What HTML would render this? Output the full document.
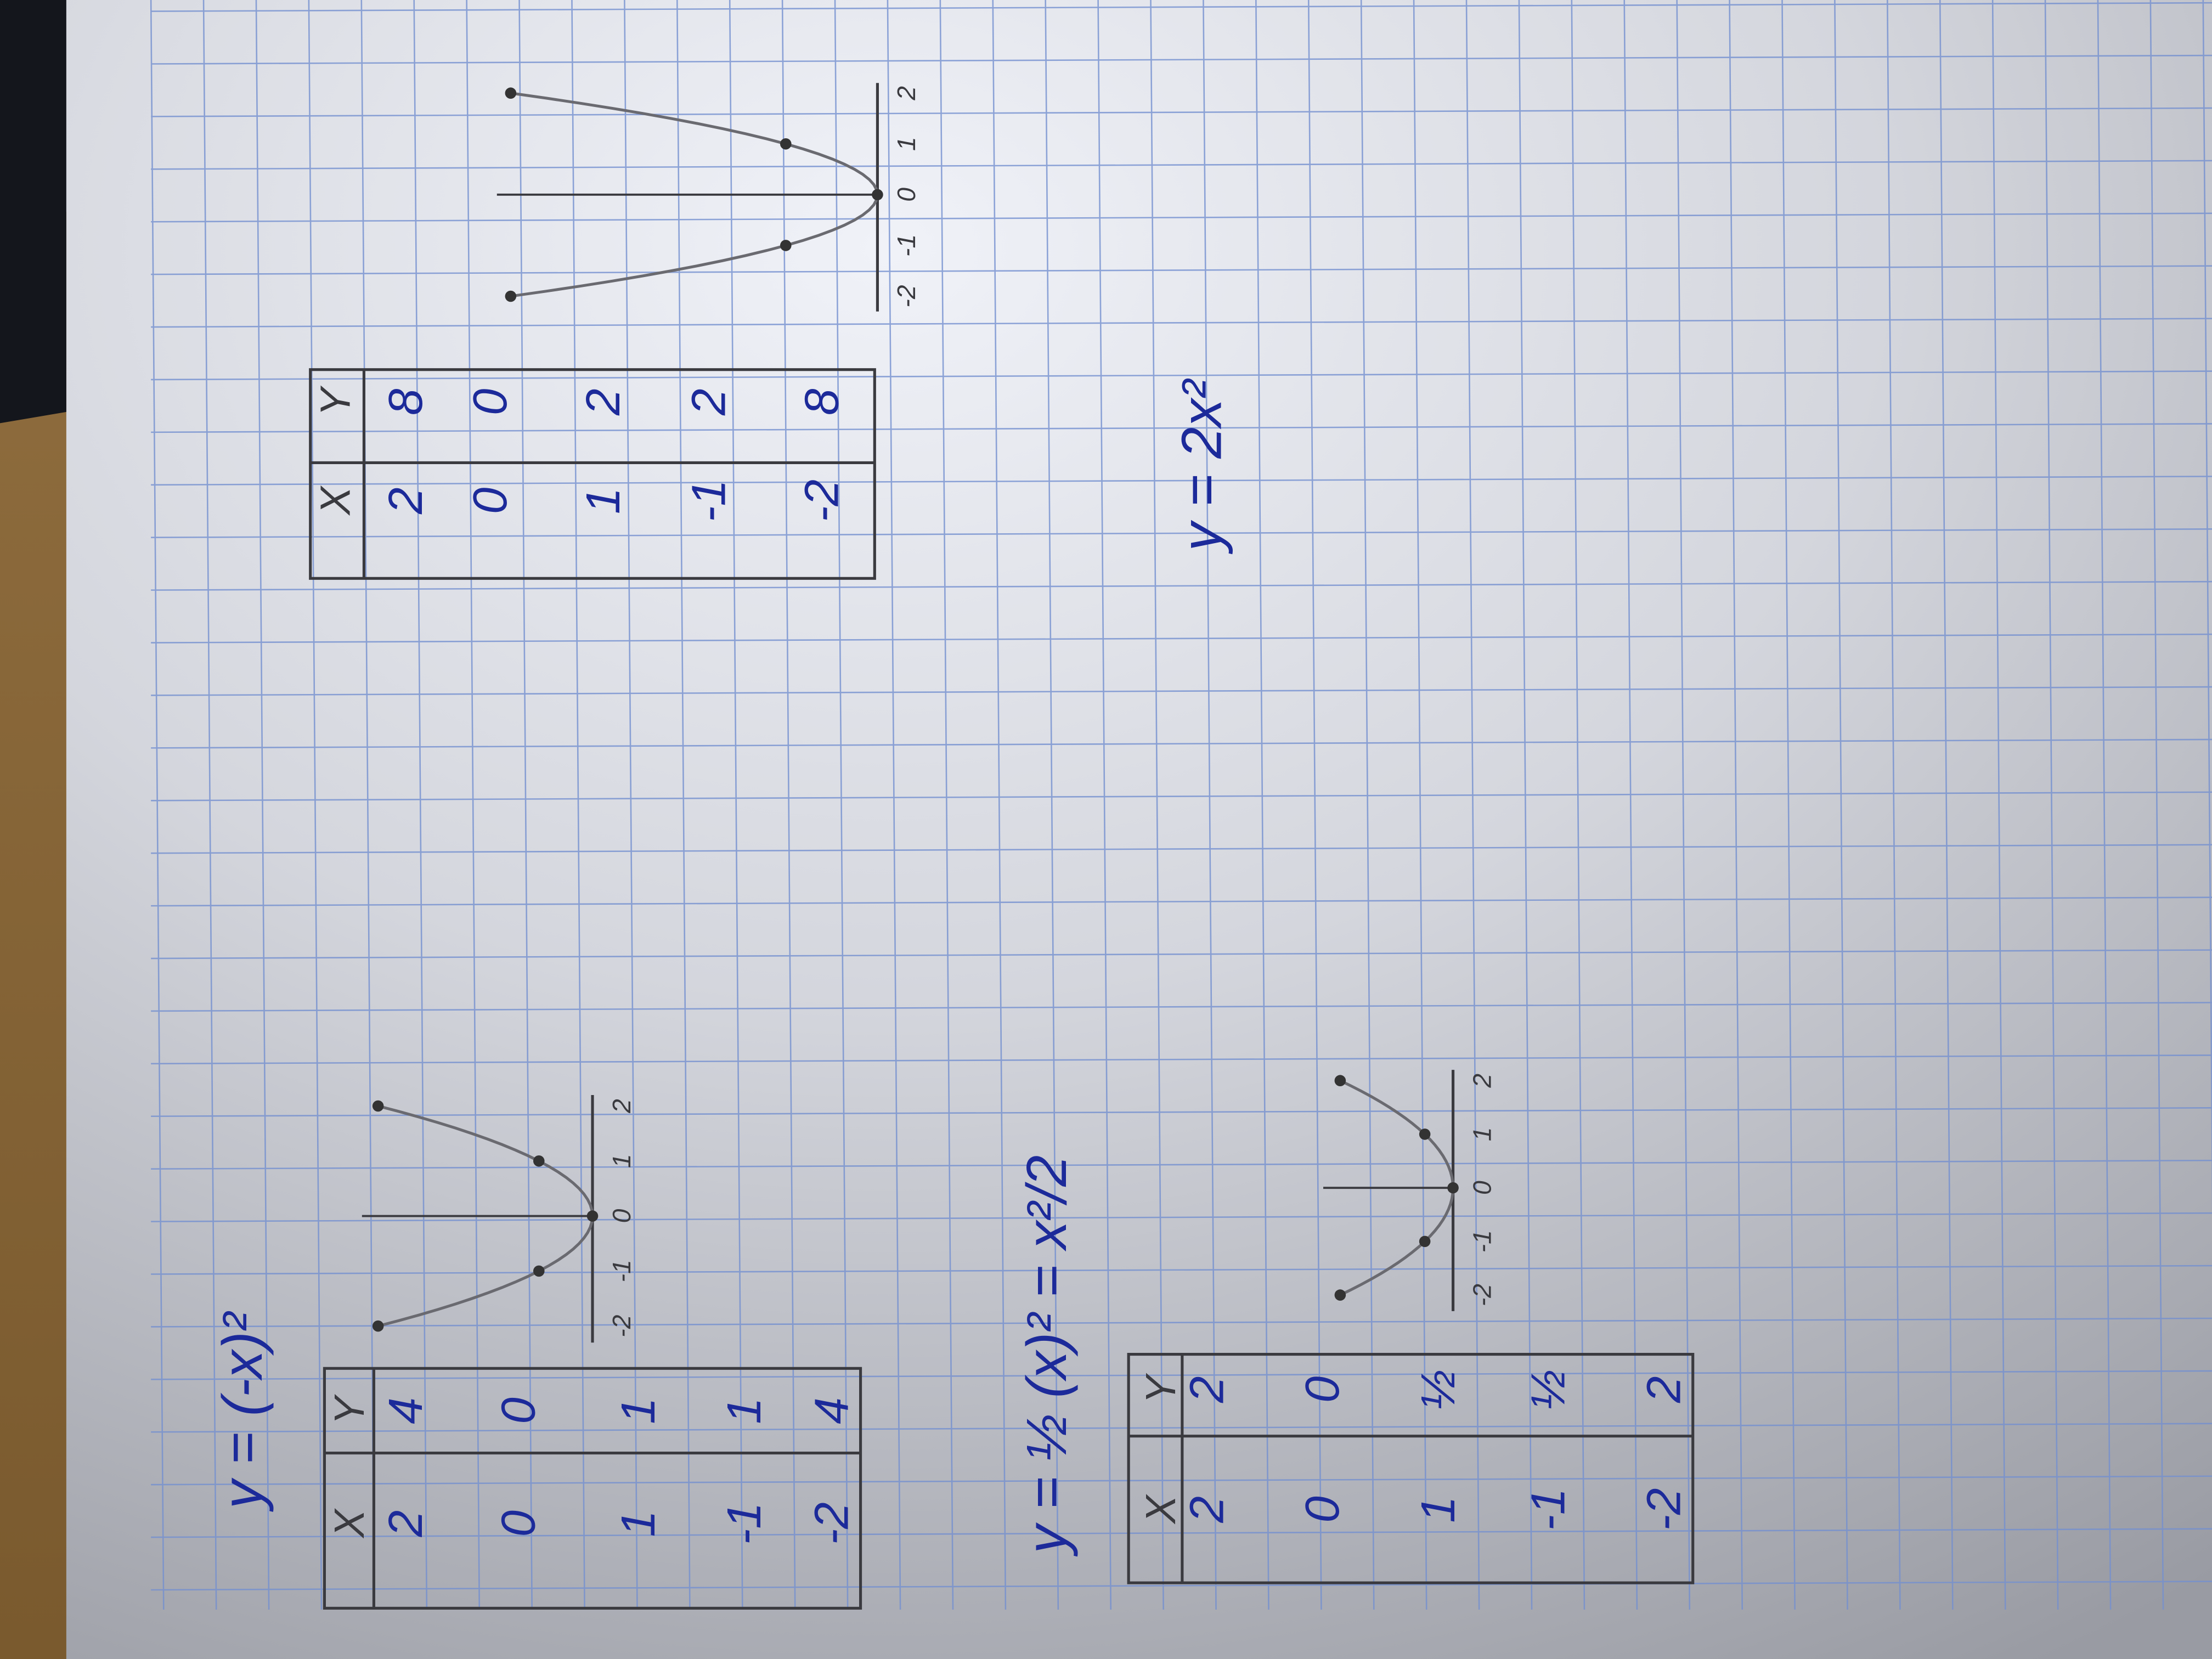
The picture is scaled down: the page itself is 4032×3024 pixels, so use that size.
<!DOCTYPE html>
<html><head><meta charset="utf-8"><style>
html,body{margin:0;padding:0;background:#111;}
svg{display:block}
text{font-family:"Liberation Sans",sans-serif;}
</style></head><body>
<svg id="page" width="4032" height="3024" viewBox="0 0 1568 1176" xmlns="http://www.w3.org/2000/svg">
<defs>
<radialGradient id="light" cx="0.4" cy="0.15" r="1.0">
<stop offset="0" stop-color="#f0f2f8"/>
<stop offset="0.45" stop-color="#d4d6dd"/>
<stop offset="1" stop-color="#999ba3"/>
</radialGradient>
<linearGradient id="wood" x1="0" y1="0" x2="0" y2="1">
<stop offset="0" stop-color="#8f6d3e"/>
<stop offset="1" stop-color="#7a5a2e"/>
</linearGradient>
</defs>
<rect x="0" y="0" width="1568" height="1176" fill="url(#light)"/>
<rect x="0" y="150" width="47" height="1026" fill="url(#wood)"/>
<polygon points="0,0 47,0 47,148 0,170" fill="#ffffff" opacity="0"/>
<polygon points="0,0 47,0 47,292 0,300" fill="#14161c"/>
<g id="grid" stroke="#7490d0" stroke-width="1" opacity="0.8"></g>
<g id="ink"></g>
</svg>
<script>
// parabola data
const xVals = [-2, -1, 0, 1, 2];
const yVals1 = [4, 1, 0, 1, 4];        // y = (-x)^2
const yVals2 = [2, 0.5, 0, 0.5, 2];    // y = x^2/2
const yVals3 = [8, 2, 0, 2, 8];        // y = 2x^2
const xTicks = ["-2", "-1", "0", "1", "2"];

const NS = "http://www.w3.org/2000/svg";
const grid = document.getElementById('grid');
const ink = document.getElementById('ink');
function mk(tag, attrs, parent){const e=document.createElementNS(NS,tag);for(const k in attrs)e.setAttribute(k,attrs[k]);(parent||ink).appendChild(e);return e;}

for(let x=107;x<1600;x+=37.3){
  const l=mk('line',{x1:x,y1:0,x2:x+9,y2:1141},grid);
  
  
}
for(let y=8;y<1145;y+=37.3){
  const l=mk('line',{x1:107,y1:y,x2:1568,y2:y-6},grid);
  
  
}

function rtext(x,y,str,size,color,name){
  const t=mk('text',{x:0,y:0,transform:`translate(${x},${y}) rotate(-90)`,'font-size':size,fill:color,'text-anchor':'middle','dominant-baseline':'middle','font-style':'italic'});
  t.textContent=str;
  
  
  return t;
}
const BLUE="#1c2a9a", PEN="#3a3a3f";

rtext(175,1000,"y = (-x)²",40,BLUE,'title-neg-x-squared');
rtext(745,960,"y = ½ (x)² = x²/2",40,BLUE,'title-half-x-squared');
rtext(855,330,"y = 2x²",40,BLUE,'title-2x-squared');

function table(x0,x1,yTop,yBot,yDiv,xHead,rowsX,colXy,colYy,xv,yv,name){
  const g=mk('g',{stroke:PEN,'stroke-width':2,fill:'none'});
  
  
  mk('rect',{x:x0,y:yTop,width:x1-x0,height:yBot-yTop},g);
  mk('line',{x1:x0,y1:yDiv,x2:x1,y2:yDiv},g);
  mk('line',{x1:xHead,y1:yTop,x2:xHead,y2:yBot},g);
  rtext(rowsX[0],colXy,"X",30,PEN,name+'-x-header');
  rtext(rowsX[0],colYy,"Y",30,PEN,name+'-y-header');
  for(let i=0;i<xv.length;i++){
    rtext(rowsX[i+1],colXy,xv[i],34,BLUE,name+'-x-cell');
    rtext(rowsX[i+1],colYy,yv[i],34,BLUE,name+'-y-cell');
  }
}
table(230,610,970,1140,1030,265,[250,290,370,455,530,592],1080,1000,["2","0","1","-1","-2"],["4","0","1","1","4"],'table-neg-x-squared');
table(800,1200,960,1122,1018,838,[825,858,940,1022,1100,1182],1070,985,["2","0","1","-1","-2"],["2","0","½","½","2"],'table-half-x-squared');
table(220,620,262,410,328,258,[240,290,350,430,505,585],355,285,["2","0","1","-1","-2"],["8","0","2","2","8"],'table-2x-squared');

function chart(vx,vy,ux,uy,ys,maxY,name){
  const sx=x=>vy - x*ux;
  const sy=y=>vx - y*uy;
  const g=mk('g',{});
  
  
  const ax=mk('line',{x1:vx,y1:sx(2.2),x2:vx,y2:sx(-2.3),stroke:PEN,'stroke-width':2},g);
  
  
  const ay=mk('line',{x1:vx,y1:vy,x2:sy(maxY),y2:vy,stroke:PEN,'stroke-width':1.5},g);
  
  
  xVals.forEach((x,i)=>{
    const t=rtext(vx+22,sx(x),xTicks[i],18,PEN,name+'-x-tick');
    g.appendChild(t);
  });
  let d='';
  for(let k=0;k<=40;k++){const x=-2+k*0.1;
    const yq=(ys[4]/4)*x*x;
    d+=(k?'L':'M')+sy(yq)+','+sx(x);}
  const c=mk('path',{d:d,fill:'none',stroke:'#6a6a70','stroke-width':2},g);
  
  
  xVals.forEach((x,i)=>{
    const p=mk('circle',{cx:sy(ys[i]),cy:sx(x),r:4,fill:'#333'},g);
    
    
  });
}
chart(420,862,39,38,yVals1,4.3,'chart-neg-x-squared');
chart(1030,842,38,40,yVals2,2.3,'chart-half-x-squared');
chart(622,138,36,32.5,yVals3,8.3,'chart-2x-squared');
</script>
</body></html>
